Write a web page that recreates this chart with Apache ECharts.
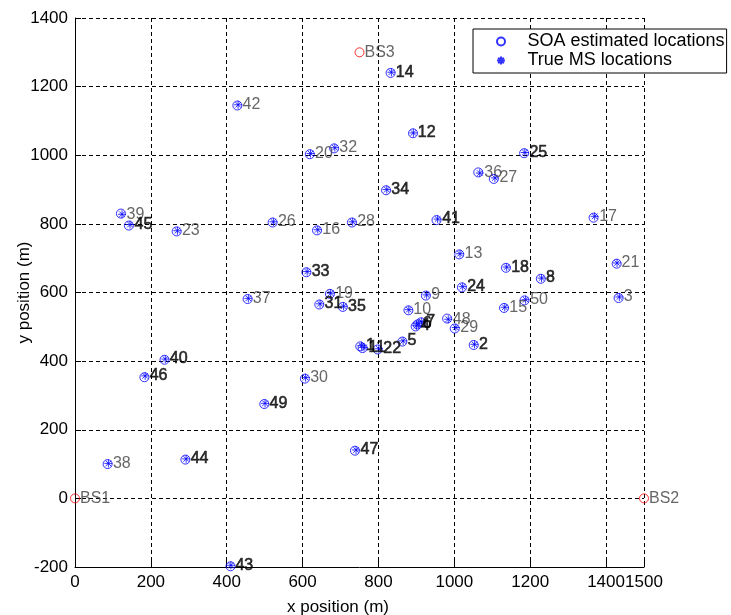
<!DOCTYPE html>
<html>
<head>
<meta charset="utf-8">
<script src="https://cdn.jsdelivr.net/npm/echarts@6/dist/echarts.min.js"></script>
<style>html,body{margin:0;padding:0;background:#fff;}#c{width:731px;height:615px;}</style>
</head>
<body>
<div id="c"></div>
<script>
// ---- data ----
var msIds = [1,2,3,4,5,6,7,8,9,10,11,12,13,14,15,16,17,18,19,20,21,22,23,24,25,26,27,28,29,30,31,32,33,34,35,36,37,38,39,40,41,42,43,44,45,46,47,48,49,50];
var trueX = [755,1053,1435,900,865,905,914,1230,927,880,762,892,1015,834,1133,640,1370,1138,674,621,1429,801,270,1022,1186,523,1107,732,1004,608,646,685,612,822,708,1067,457,88,124,238,956,430,411,293,145,185,741,984,501,1188];
var trueY = [445,449,587,503,459,509,515,642,593,550,440,1065,713,1242,557,783,822,674,598,1005,686,436,780,617,1008,806,934,806,498,352,567,1022,661,900,560,948,583,102,828,406,814,1147,-195,115,798,357,141,522,277,579];
var estX = [752,1051,1433,898,863,903,912,1228,925,879,758,891,1013,832,1131,638,1367,1136,672,619,1428,798,268,1020,1184,521,1104,730,1001,606,644,683,610,820,706,1063,455,86,121,236,953,428,410,291,142,183,738,981,499,1185];
var estY = [443,447,584,501,457,507,513,640,591,548,438,1064,711,1240,555,781,818,672,596,1003,684,434,778,615,1006,804,931,804,495,349,565,1020,659,898,558,950,581,100,830,404,811,1145,-198,113,795,353,139,524,275,577];
var bsNames = ['BS1','BS2','BS3'];
var bsX = [0,1500,750];
var bsY = [0,0,1300];
var xTickMin = 0, xTickMax = 1500, xTickStep = 200;
var yTickMin = -200, yTickMax = 1400, yTickStep = 200;
var legendNames = ['SOA estimated locations','True MS locations'];

// ---- styling ----
var FONT = '"Liberation Sans", Arial, sans-serif';
var darkLabelIds = [1,2,4,5,6,7,8,11,12,14,18,22,24,25,31,33,34,35,40,41,43,44,45,46,47,49];
var starPath = 'path://M5,0L5,10M0,5L10,5M1.5,1.5L8.5,8.5M1.5,8.5L8.5,1.5';
function plainNum(v){ return String(v); }

var trueData = msIds.map(function(id,i){
  var dark = darkLabelIds.indexOf(id) >= 0;
  return {
    name: String(id),
    value: [trueX[i], trueY[i]],
    label: dark ? {color:'#000', textBorderColor:'#000', textBorderWidth:0.6}
                : {color:'#404040'}
  };
});
var estData = msIds.map(function(id,i){ return {name:String(id), value:[estX[i], estY[i]]}; });
var bsData = bsNames.map(function(n,i){ return {name:n, value:[bsX[i], bsY[i]]}; });

var chart = echarts.init(document.getElementById('c'), null, {renderer:'canvas'});
chart.setOption({
  animation: false,
  backgroundColor: '#ffffff',
  textStyle: {fontFamily: FONT},
  grid: {left: 75, top: 18, right: 87, bottom: 48, containLabel: false, outerBoundsMode: 'none'},
  legend: {
    orient: 'vertical', left: 473, top: 29,
    data: legendNames,
    backgroundColor: '#fff', borderColor: '#000', borderWidth: 1,
    padding: [3, 2, 3, 23],
    itemWidth: 43, itemHeight: 8, itemGap: 0,
    textStyle: {fontFamily: FONT, fontSize: 18, color: '#000', lineHeight: 19}
  },
  xAxis: {
    type: 'value', min: xTickMin, max: xTickMax, interval: xTickStep,
    name: 'x position (m)', nameLocation: 'middle', nameGap: 32, nameMoveOverlap: false,
    nameTextStyle: {fontFamily: FONT, fontSize: 17, color: '#000', padding: [0, 43, 0, 0]},
    axisLine: {onZero: false, lineStyle: {color: '#000', width: 1}},
    axisTick: {inside: true, length: 6, lineStyle: {color: '#000'}},
    axisLabel: {fontFamily: FONT, fontSize: 17, color: '#000', margin: 7, formatter: plainNum},
    splitLine: {show: true, lineStyle: {color: '#000', type: [4, 3], width: 1}}
  },
  yAxis: {
    type: 'value', min: yTickMin, max: yTickMax, interval: yTickStep,
    name: 'y position (m)', nameLocation: 'middle', nameGap: 42, nameMoveOverlap: false,
    nameTextStyle: {fontFamily: FONT, fontSize: 17, color: '#000'},
    axisLine: {onZero: false, lineStyle: {color: '#000', width: 1}},
    axisTick: {inside: true, length: 6, lineStyle: {color: '#000'}},
    axisLabel: {fontFamily: FONT, fontSize: 17, color: '#000', margin: 7, formatter: plainNum},
    splitLine: {show: true, lineStyle: {color: '#000', type: [4, 3], width: 1}}
  },
  series: [
    {
      name: legendNames[0], type: 'scatter', data: estData,
      symbol: 'circle', symbolSize: 9,
      itemStyle: {color: 'rgba(0,0,0,0)', borderColor: '#0000ff', borderWidth: 1},
      z: 3
    },
    {
      name: legendNames[1], type: 'scatter', data: trueData,
      symbol: starPath, symbolSize: 8,
      itemStyle: {color: '#0000ff', borderColor: '#0000ff', borderWidth: 1},
      label: {show: true, position: 'right', distance: 0, formatter: '{b}',
              fontFamily: FONT, fontSize: 16},
      z: 4
    },
    {
      name: 'BS', type: 'scatter', data: bsData,
      symbol: 'circle', symbolSize: 9,
      itemStyle: {color: 'rgba(0,0,0,0)', borderColor: '#ff0000', borderWidth: 1},
      label: {show: true, position: 'right', distance: 0, formatter: '{b}',
              fontFamily: FONT, fontSize: 16, color: '#404040'},
      clip: false,
      z: 5
    }
  ]
});
</script>
</body>
</html>
